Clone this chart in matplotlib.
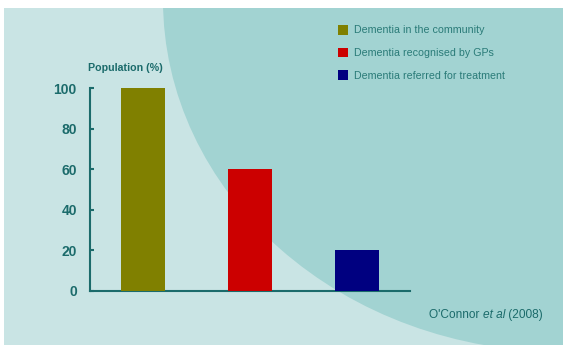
import matplotlib
matplotlib.use('Agg')
import matplotlib.pyplot as plt
from matplotlib.patches import Rectangle, Ellipse, Patch

# data
groups = ['Dementia in the community',
          'Dementia recognised by GPs',
          'Dementia referred for treatment']
population = [100, 60, 20]
bar_colors = ['#808000', '#CC0000', '#000080']
yticks = [0, 20, 40, 60, 80, 100]

plt.rcParams['font.family'] = ['Liberation Sans', 'DejaVu Sans']

W, H = 563, 349
TEAL = '#1B6B6B'
LEG_TEAL = '#2A7B78'
LIGHT = '#C9E4E4'
DARK = '#A2D3D2'

fig = plt.figure(figsize=(W / 100, H / 100), dpi=100)
fig.patch.set_facecolor('white')

# background panel + big quarter ellipse from the top-right corner
panel = Rectangle((4 / W, 4 / H), (W - 4) / W, 337 / H,
                  transform=fig.transFigure, facecolor=LIGHT, edgecolor='none', zorder=0)
fig.add_artist(panel)
circ = Ellipse((1.0, 1.0), 800 / W, 704 / H,
               transform=fig.transFigure, facecolor=DARK, edgecolor='none', zorder=0)
fig.add_artist(circ)
circ.set_clip_path(panel)

ax = fig.add_axes([90 / W, 58 / H, 320 / W, 203 / H])
ax.patch.set_visible(False)
ax.bar(range(len(population)), population, width=0.41, color=bar_colors, zorder=3)

ax.set_xlim(-0.5, 2.5)
ax.set_ylim(0, 100)
ax.set_xticks([])
ax.set_yticks(yticks)
ax.spines[['top', 'right']].set_visible(False)
for s in ['left', 'bottom']:
    ax.spines[s].set_color(TEAL)
    ax.spines[s].set_linewidth(1.5)
ax.tick_params(axis='y', direction='in', length=3, width=1.5, color=TEAL,
               labelcolor=TEAL, labelsize=10, pad=9.5)
for t in ax.get_yticklabels():
    t.set_fontweight('bold')

fig.text(88 / W, 1 - 68 / H, 'Population (%)', fontsize=7.7, fontweight='bold',
         color=TEAL, va='center', ha='left')

handles = [Patch(facecolor=c, edgecolor='none', label=g) for c, g in zip(bar_colors, groups)]
fig.legend(handles=handles, loc='upper left', bbox_to_anchor=(338 / W, 1 - 25 / H),
           frameon=False, fontsize=7.7, labelcolor=LEG_TEAL, borderpad=0, borderaxespad=0,
           handlelength=0.95, handleheight=1.0, handletextpad=0.55, labelspacing=1.15)

t1 = fig.text(429 / W, 1 - 315 / H, "O'Connor ", fontsize=8.6, color=TEAL,
              va='center', ha='left')
t2 = ax.annotate('et al', xy=(1, 0), xycoords=t1, fontsize=8.6, color=TEAL,
                 style='italic', va='bottom', ha='left')
ax.annotate(' (2008)', xy=(1, 0), xycoords=t2, fontsize=8.6, color=TEAL,
            va='bottom', ha='left')

fig.savefig('out.png', dpi=100)
